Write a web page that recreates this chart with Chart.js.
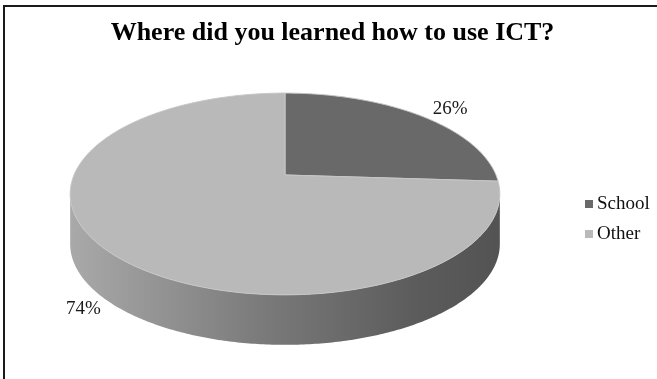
<!DOCTYPE html>
<html>
<head>
<meta charset="utf-8">
<script src="https://cdn.jsdelivr.net/npm/chart.js@4/dist/chart.umd.min.js"></script>
<style>
  html, body { margin: 0; padding: 0; background: #ffffff; }
  #wrap { position: relative; width: 657px; height: 379px; }
</style>
</head>
<body>
<div id="wrap"><canvas id="chart" width="657" height="379"></canvas></div>
<script>
// Survey answers
const categories = ['School', 'Other'];
const shares = [26, 74];
const valueLabels = ['26%', '74%'];
const chartTitle = 'Where did you learned how to use ICT?';

// Look of each slice: top face colour and the shading of its rim
const topColors = ['#696969', '#b9b9b9'];
const rimStops = [
  [[0, '#8a8a8a'], [0.5, '#5a5a5a'], [1, '#444444']],
  [[0, '#a9a9a9'], [0.45, '#7a7a7a'], [0.8, '#5c5c5c'], [1, '#535353']]
];

const SERIF = '"Liberation Serif", "Times New Roman", serif';
const SQUASH = 0.4612;   // vertical foreshortening of the disc
const PERSP = -0.188;    // perspective: the near edge looks larger than the far one
const DEPTH = 50;        // thickness of the disc in pixels
const labelNudge = [[29, -7], [-25, 8]];

// Maps a point of the flat pie (centre cx, cy, radius R) onto the tilted disc
function tilt(cx, cy, R, px, py) {
  const u = (px - cx) / R, v = (py - cy) / R;
  const w = 1 + PERSP * v;
  return [cx + R * u / w, cy + R * SQUASH * v / w];
}

const pie3d = {
  id: 'pie3d',
  beforeDraw(chart) {
    const ctx = chart.ctx;
    ctx.save();
    // frame
    ctx.fillStyle = '#1a1a1a';
    ctx.fillRect(3, 5, 2, chart.height);
    ctx.fillRect(3, 5, chart.width, 2);
    // title
    ctx.fillStyle = '#000000';
    ctx.font = 'bold 26px ' + SERIF;
    ctx.textAlign = 'center';
    ctx.textBaseline = 'alphabetic';
    ctx.fillText(chartTitle, 332.5, 39.5);
    ctx.restore();
  },
  beforeDatasetsDraw(chart) {
    const ctx = chart.ctx;
    const arcs = chart.getDatasetMeta(0).data;
    if (!arcs.length) return;
    const { x: cx, y: cy, outerRadius: R } = arcs[0].getProps(['x', 'y', 'outerRadius'], true);
    const map = (px, py) => tilt(cx, cy, R, px, py);

    // rim: only the part of the edge facing the viewer is visible
    const lo = Math.asin(-PERSP), hi = Math.PI - lo;
    ctx.save();
    arcs.forEach((arc, i) => {
      const p = arc.getProps(['startAngle', 'endAngle'], true);
      for (const shift of [0, 2 * Math.PI, -2 * Math.PI]) {
        const a = Math.max(p.startAngle + shift, lo);
        const b = Math.min(p.endAngle + shift, hi);
        if (b <= a) continue;
        const n = Math.max(4, Math.ceil((b - a) * 90));
        const pts = [];
        for (let k = 0; k <= n; k++) {
          const t = a + (b - a) * k / n;
          pts.push(map(cx + R * Math.cos(t), cy + R * Math.sin(t)));
        }
        const left = map(cx - R * Math.sqrt(1 - PERSP * PERSP), cy - R * PERSP)[0];
        const right = 2 * cx - left;
        const g = ctx.createLinearGradient(left, 0, right, 0);
        rimStops[i].forEach(([o, c]) => g.addColorStop(o, c));
        ctx.beginPath();
        pts.forEach(([X, Y], k) => k ? ctx.lineTo(X, Y) : ctx.moveTo(X, Y));
        for (let k = pts.length - 1; k >= 0; k--) ctx.lineTo(pts[k][0], pts[k][1] + DEPTH);
        ctx.closePath();
        ctx.fillStyle = g;
        ctx.fill();
      }
    });
    ctx.restore();

    // top face: the library draws the slices, every path point goes through the tilt
    const proto = Object.getPrototypeOf(ctx);
    ctx.moveTo = function (x, y) { const [X, Y] = map(x, y); proto.moveTo.call(this, X, Y); };
    ctx.lineTo = function (x, y) { const [X, Y] = map(x, y); proto.lineTo.call(this, X, Y); };
    ctx.arc = function (ax, ay, r, a0, a1, ccw) {
      let sweep = a1 - a0;
      if (!ccw) { while (sweep < 0) sweep += 2 * Math.PI; sweep = Math.min(sweep, 2 * Math.PI); }
      else { while (sweep > 0) sweep -= 2 * Math.PI; sweep = Math.max(sweep, -2 * Math.PI); }
      const n = Math.max(2, Math.ceil(Math.abs(sweep) * 90));
      for (let k = 0; k <= n; k++) {
        const t = a0 + sweep * k / n;
        const [X, Y] = map(ax + r * Math.cos(t), ay + r * Math.sin(t));
        proto.lineTo.call(this, X, Y);
      }
    };
  },
  afterDatasetsDraw(chart) {
    const ctx = chart.ctx;
    delete ctx.moveTo;
    delete ctx.lineTo;
    delete ctx.arc;

    const arcs = chart.getDatasetMeta(0).data;
    ctx.save();
    ctx.font = '19px ' + SERIF;
    ctx.fillStyle = '#1a1a1a';
    ctx.textAlign = 'center';
    ctx.textBaseline = 'middle';
    arcs.forEach((arc, i) => {
      const p = arc.getProps(['x', 'y', 'startAngle', 'endAngle', 'outerRadius'], true);
      const mid = (p.startAngle + p.endAngle) / 2;
      let [x, y] = tilt(p.x, p.y, p.outerRadius,
        p.x + p.outerRadius * Math.cos(mid), p.y + p.outerRadius * Math.sin(mid));
      if (Math.sin(mid) > 0) y += DEPTH;
      ctx.fillText(valueLabels[i], x + labelNudge[i][0], y + labelNudge[i][1]);
    });
    ctx.restore();

    // legend
    ctx.save();
    ctx.font = '19px ' + SERIF;
    ctx.textBaseline = 'middle';
    ctx.textAlign = 'left';
    categories.forEach((name, i) => {
      const y = 204 + i * 30;
      ctx.fillStyle = topColors[i];
      ctx.fillRect(585, y - 4, 8, 8);
      ctx.fillStyle = '#111111';
      ctx.fillText(name, 597, y);
    });
    ctx.restore();
  }
};

new Chart(document.getElementById('chart'), {
  type: 'pie',
  data: {
    labels: categories,
    datasets: [{
      data: shares,
      backgroundColor: topColors,
      borderColor: '#c6c6c6',
      borderWidth: 1,
      clip: false
    }]
  },
  options: {
    responsive: false,
    animation: false,
    events: [],
    radius: 211,
    layout: { padding: { left: 0, right: 87, top: 0, bottom: 29 } },
    plugins: {
      legend: { display: false },
      tooltip: { enabled: false },
      title: { display: false }
    }
  },
  plugins: [pie3d]
});
</script>
</body>
</html>
